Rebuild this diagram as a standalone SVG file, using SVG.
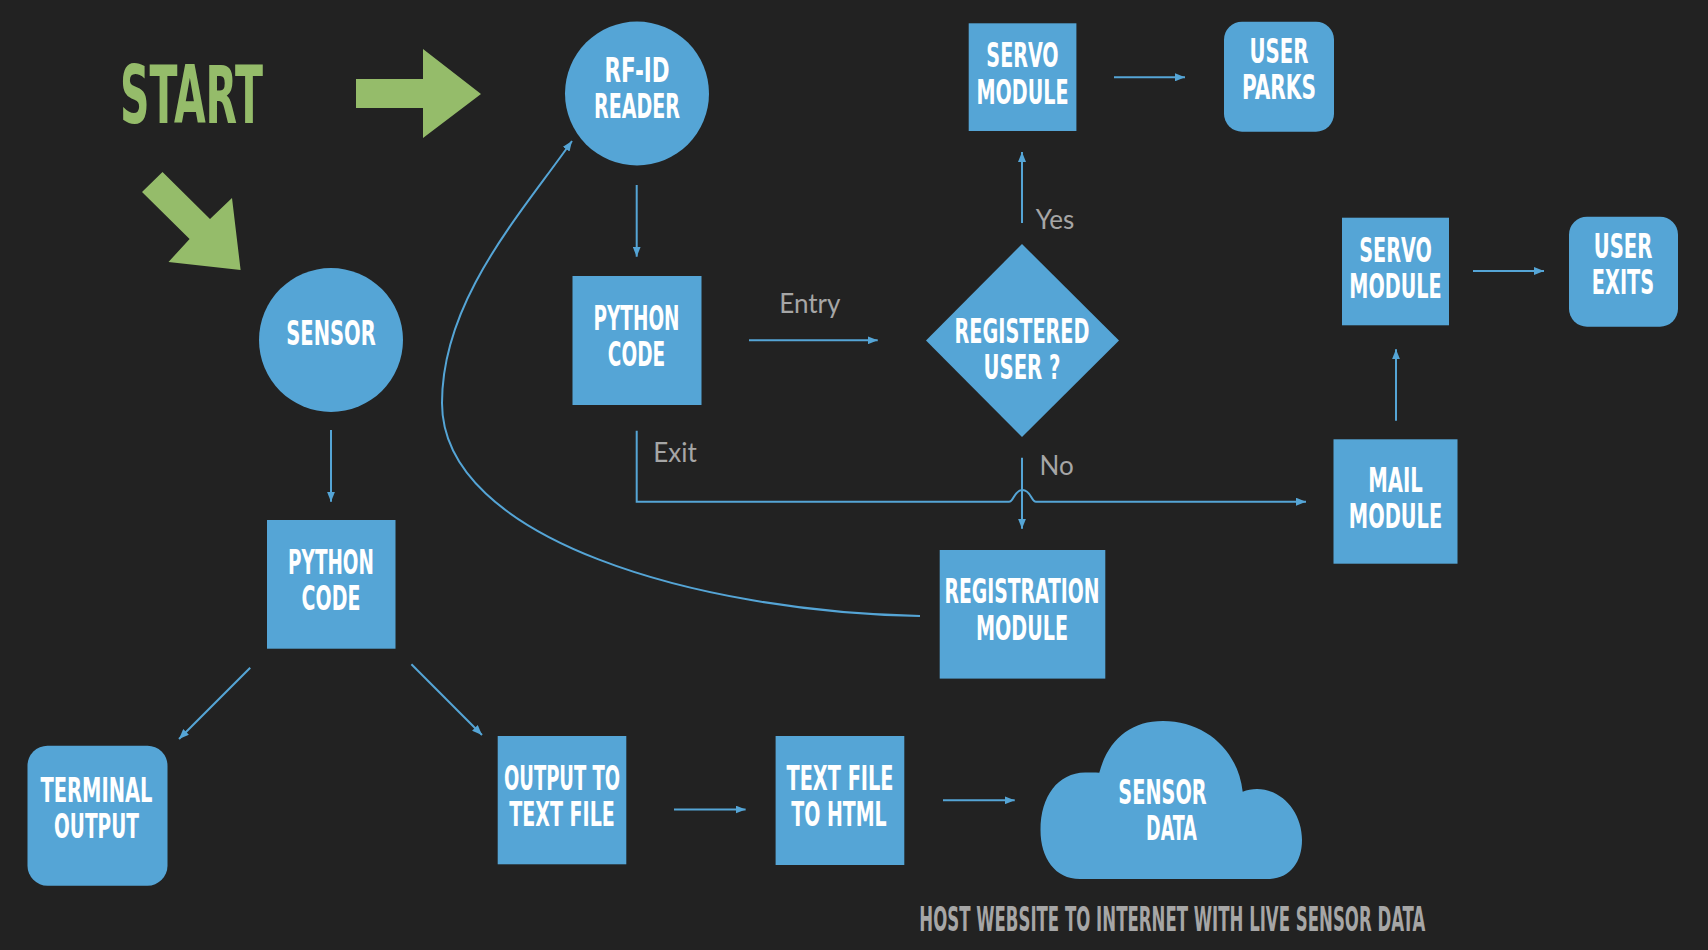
<svg xmlns="http://www.w3.org/2000/svg" width="1708" height="950" viewBox="0 0 1708 950">
<defs>
<style>
.bg{fill:#222222}
.n{fill:#55a5d6}
.g{fill:#95bc6a}
.t{font-family:"Liberation Sans Narrow","DejaVu Sans Condensed","Liberation Sans",sans-serif;font-weight:bold;font-size:34px;fill:#ffffff;text-anchor:middle}
.lb{font-family:Lato,"Open Sans","Liberation Sans",sans-serif;font-size:26px;fill:#a6a6a6}
.c{fill:none;stroke:#55a5d6;stroke-width:2}
.a{marker-end:url(#ah)}
</style>
<marker id="ah" markerUnits="userSpaceOnUse" markerWidth="10" markerHeight="8" refX="10" refY="4" orient="auto"><path d="M0,0 L10,4 L0,8 z" fill="#55a5d6"/></marker>
</defs>
<rect class="bg" x="0" y="0" width="1708" height="950"/>

<g id="start">
<text x="120" y="123" font-family="'Liberation Sans Narrow','DejaVu Sans Condensed','Liberation Sans',sans-serif" font-weight="bold" font-size="80" fill="#95bc6a" textLength="143" lengthAdjust="spacingAndGlyphs">START</text>
<polygon class="g" points="356,79 423,79 423,49 481,94 423,138 423,108 356,108"/>
<polygon class="g" points="162.5,172 210,219 232,198 240.6,270 168.5,262 189.6,239 142,192"/>
</g>

<g id="connectors">
<path class="c a" d="M636.7,185 V256.7"/>
<path class="c a" d="M749,340.3 H877.7"/>
<path class="c a" d="M1022,223 V152"/>
<path class="c a" d="M1114,77.3 H1185"/>
<path class="c a" d="M1022,457.7 V528.7"/>
<path class="c a" d="M636.7,430.7 V501.7 H1009 C1014,501.7 1014,490 1022.5,490 C1031,490 1031,501.7 1036,501.7 H1306"/>
<path class="c a" d="M1396,420.7 V349.3"/>
<path class="c a" d="M1473,271 H1544"/>
<path class="c a" d="M920,616 C700,612 442,540 442,403 C442,300 520,215 572,141"/>
<path class="c a" d="M331,430 V501.7"/>
<path class="c a" d="M250.2,667.7 L179,739"/>
<path class="c a" d="M411.4,664.3 L482,735"/>
<path class="c a" d="M674,809.5 H745.6"/>
<path class="c a" d="M943,800.3 H1014.7"/>
<text class="lb" x="779.3" y="313.3">Entry</text>
<text class="lb" x="1035.8" y="229.3">Yes</text>
<text class="lb" x="653.3" y="462">Exit</text>
<text class="lb" x="1039.6" y="475">No</text>
</g>

<g id="rfid">
<circle class="n" cx="637" cy="93.5" r="72"/>
<text class="t" x="637" y="82" textLength="65" lengthAdjust="spacingAndGlyphs">RF-ID</text>
<text class="t" x="637" y="117.5" textLength="86" lengthAdjust="spacingAndGlyphs">READER</text>
</g>

<g id="sensor">
<circle class="n" cx="331" cy="340" r="72"/>
<text class="t" x="331" y="345" textLength="89.5" lengthAdjust="spacingAndGlyphs">SENSOR</text>
</g>

<g id="python1">
<rect class="n" x="572.5" y="276" width="129" height="129"/>
<text class="t" x="636.5" y="330" textLength="86" lengthAdjust="spacingAndGlyphs">PYTHON</text>
<text class="t" x="636.5" y="366" textLength="57.3" lengthAdjust="spacingAndGlyphs">CODE</text>
</g>

<g id="python2">
<rect class="n" x="267" y="520" width="128.5" height="128.7"/>
<text class="t" x="331" y="574" textLength="85.8" lengthAdjust="spacingAndGlyphs">PYTHON</text>
<text class="t" x="331" y="610" textLength="58.8" lengthAdjust="spacingAndGlyphs">CODE</text>
</g>

<g id="decision">
<polygon class="n" points="1022,244 1119,340.5 1022,437 926,340.5"/>
<text class="t" x="1022" y="343.3" textLength="135" lengthAdjust="spacingAndGlyphs">REGISTERED</text>
<text class="t" x="1022" y="379" textLength="77" lengthAdjust="spacingAndGlyphs">USER ?</text>
</g>

<g id="servo1">
<rect class="n" x="968.7" y="23.3" width="107.7" height="107.7"/>
<text class="t" x="1022.5" y="66.7" textLength="72.3" lengthAdjust="spacingAndGlyphs">SERVO</text>
<text class="t" x="1022.5" y="104" textLength="92" lengthAdjust="spacingAndGlyphs">MODULE</text>
</g>

<g id="userparks">
<rect class="n" x="1224" y="21.7" width="110" height="110" rx="18"/>
<text class="t" x="1279" y="63.3" textLength="59" lengthAdjust="spacingAndGlyphs">USER</text>
<text class="t" x="1279" y="99" textLength="74" lengthAdjust="spacingAndGlyphs">PARKS</text>
</g>

<g id="servo2">
<rect class="n" x="1342" y="217.7" width="107" height="107.6"/>
<text class="t" x="1395.5" y="261.7" textLength="72.7" lengthAdjust="spacingAndGlyphs">SERVO</text>
<text class="t" x="1395.5" y="297.7" textLength="92.4" lengthAdjust="spacingAndGlyphs">MODULE</text>
</g>

<g id="userexits">
<rect class="n" x="1569" y="216.7" width="109" height="110" rx="18"/>
<text class="t" x="1623" y="258.3" textLength="58.6" lengthAdjust="spacingAndGlyphs">USER</text>
<text class="t" x="1623" y="294" textLength="62.3" lengthAdjust="spacingAndGlyphs">EXITS</text>
</g>

<g id="mail">
<rect class="n" x="1333.5" y="439.3" width="124" height="124.4"/>
<text class="t" x="1395.5" y="491.7" textLength="54.5" lengthAdjust="spacingAndGlyphs">MAIL</text>
<text class="t" x="1395.5" y="528.2" textLength="93.3" lengthAdjust="spacingAndGlyphs">MODULE</text>
</g>

<g id="registration">
<rect class="n" x="939.7" y="550" width="165.6" height="128.6"/>
<text class="t" x="1022" y="603" textLength="155" lengthAdjust="spacingAndGlyphs">REGISTRATION</text>
<text class="t" x="1022" y="640" textLength="92" lengthAdjust="spacingAndGlyphs">MODULE</text>
</g>

<g id="terminal">
<rect class="n" x="27.5" y="745.7" width="140" height="140" rx="20"/>
<text class="t" x="96.5" y="801.7" textLength="112" lengthAdjust="spacingAndGlyphs">TERMINAL</text>
<text class="t" x="96.5" y="837.7" textLength="85" lengthAdjust="spacingAndGlyphs">OUTPUT</text>
</g>

<g id="outputfile">
<rect class="n" x="497.7" y="736" width="128.6" height="128.3"/>
<text class="t" x="562" y="790" textLength="116" lengthAdjust="spacingAndGlyphs">OUTPUT TO</text>
<text class="t" x="562" y="826" textLength="105.6" lengthAdjust="spacingAndGlyphs">TEXT FILE</text>
</g>

<g id="texthtml">
<rect class="n" x="775.6" y="736" width="128.7" height="129"/>
<text class="t" x="840" y="790" textLength="107" lengthAdjust="spacingAndGlyphs">TEXT FILE</text>
<text class="t" x="839" y="825.7" textLength="95.4" lengthAdjust="spacingAndGlyphs">TO HTML</text>
</g>

<g id="cloud">
<path class="n" d="M1080,879 C1055,879 1040.5,858 1040.5,830 C1040.5,796 1058,773 1085,772.5 C1090,772.5 1095,772.5 1099.3,772.7 C1108,740 1130,721 1163,721 C1205,721 1238,750 1242.7,791.7 C1247,790 1252,789 1257,789 C1282,789 1302,812 1302,840 C1302,862 1290,879 1268,879 Z"/>
<text class="t" x="1162.5" y="804.3" textLength="88.3" lengthAdjust="spacingAndGlyphs">SENSOR</text>
<text class="t" x="1171.4" y="840" textLength="50.7" lengthAdjust="spacingAndGlyphs">DATA</text>
</g>

<g id="caption">
<text x="1172.3" y="930.5" font-family="'Liberation Sans Narrow','DejaVu Sans Condensed','Liberation Sans',sans-serif" font-weight="bold" font-size="33" fill="#a6a6a6" text-anchor="middle" textLength="506" lengthAdjust="spacingAndGlyphs">HOST WEBSITE TO INTERNET WITH LIVE SENSOR DATA</text>
</g>
</svg>
